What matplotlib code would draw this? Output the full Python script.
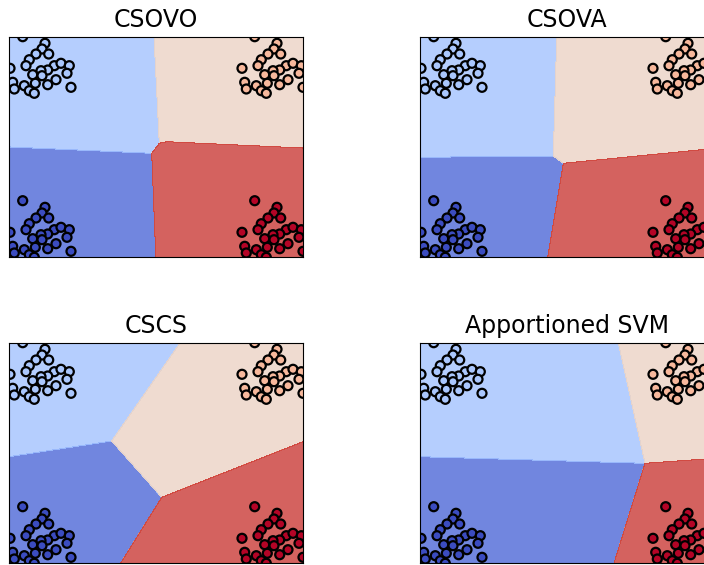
import matplotlib
matplotlib.use("Agg")
import matplotlib.pyplot as plt
import numpy as np
from matplotlib.path import Path

# one blob of points (read from the top-left cluster), shared by all 4 classes
blob_x = [1.37, 3.6, 3.3, 3.97, 2.7, 2.03, 1.7, 0.1, 4.53, 5.2, 6.03, 3.87, 3.2,
          2.37, 3.3, 5.8, 4.7, 0.37, 1.53, 2.63, 3.87, 2.03, 2.53, 6.2, 0.53]
blob_y = [22.03, 21.37, 20.8, 20.3, 20.3, 19.73, 19.13, 18.87, 19.13, 19.37, 19.13,
          18.7, 18.63, 18.23, 18.13, 18.37, 17.73, 17.47, 17.13, 17.37, 17.23,
          16.63, 16.37, 16.97, 16.8]

# class -> shift of the blob (0: bottom-left, 1: top-left, 2: top-right, 3: bottom-right)
class_shift_x = [0.0, 0.0, 23.2, 23.2]
class_shift_y = [-16.4, 0.0, 0.0, -16.4]

titles = ["CSOVO", "CSOVA", "CSCS", "Apportioned SVM"]

# decision regions per method: polygons for classes 1, 2, 3 (class 0 is the rest)
regions = {
    "CSOVO": {
        1: [(-1, 23), (14.45, 23), (15.03, 11.37), (14.27, 10.37), (-1, 11.05)],
        2: [(14.45, 23), (30.4, 23), (30.4, 10.85), (15.77, 11.53), (15.03, 11.37)],
        3: [(14.27, 10.37), (15.03, 11.37), (15.77, 11.53), (30.4, 10.85), (30.4, -1), (14.72, -1)],
    },
    "CSOVA": {
        1: [(-1, 23), (13.7, 23), (13.33, 10.1), (-1, 9.96)],
        2: [(13.7, 23), (30.4, 23), (30.4, 10.95), (14.33, 9.37), (13.33, 10.1)],
        3: [(14.33, 9.37), (30.4, 10.95), (30.4, -1), (12.6, -1)],
    },
    "CSCS": {
        1: [(-1, 23), (17.8, 23), (10.27, 12.2), (-1, 10.48)],
        2: [(17.8, 23), (30.4, 23), (30.4, 12.52), (15.27, 6.57), (10.27, 12.2)],
        3: [(15.27, 6.57), (30.4, 12.52), (30.4, -1), (10.55, -1)],
    },
    "Apportioned SVM": {
        1: [(-1, 23), (19.61, 23), (22.5, 9.97), (-1, 10.66)],
        2: [(19.61, 23), (30.4, 23), (30.4, 10.53), (22.5, 9.97)],
        3: [(22.5, 9.97), (30.4, 10.53), (30.4, -1), (19.09, -1)],
    },
}

x_min, x_max = 0.0, 29.4
y_min, y_max = 0.0, 22.0

# points
X, Y, labels = [], [], []
for k in range(4):
    X += [bx + class_shift_x[k] for bx in blob_x]
    Y += [by + class_shift_y[k] for by in blob_y]
    labels += [k] * len(blob_x)
X, Y, labels = np.array(X), np.array(Y), np.array(labels)

xx, yy = np.meshgrid(np.arange(x_min - 0.5, x_max + 0.5, 0.02),
                     np.arange(y_min - 0.5, y_max + 0.5, 0.02))
grid = np.c_[xx.ravel(), yy.ravel()]

fig = plt.figure(figsize=(7.04, 5.65), dpi=100)
positions = [
    [9 / 704, 308 / 565, 294 / 704, 220 / 565],
    [420 / 704, 308 / 565, 294 / 704, 220 / 565],
    [9 / 704, 2 / 565, 294 / 704, 220 / 565],
    [420 / 704, 2 / 565, 294 / 704, 220 / 565],
]

for pos, title in zip(positions, titles):
    ax = fig.add_axes(pos)
    Z = np.zeros(len(grid))
    for k, poly in regions[title].items():
        Z[Path(poly).contains_points(grid)] = k
    Z = Z.reshape(xx.shape)
    ax.contourf(xx, yy, Z, cmap=plt.cm.coolwarm, alpha=0.8)
    ax.scatter(X, Y, c=labels, cmap=plt.cm.coolwarm, s=42, edgecolors="k", linewidths=1.6)
    ax.set_xlim(x_min, x_max)
    ax.set_ylim(y_min, y_max)
    ax.set_xticks([])
    ax.set_yticks([])
    ax.set_title(title, fontsize=17, pad=7.4)

plt.savefig("out.png", dpi=100)
